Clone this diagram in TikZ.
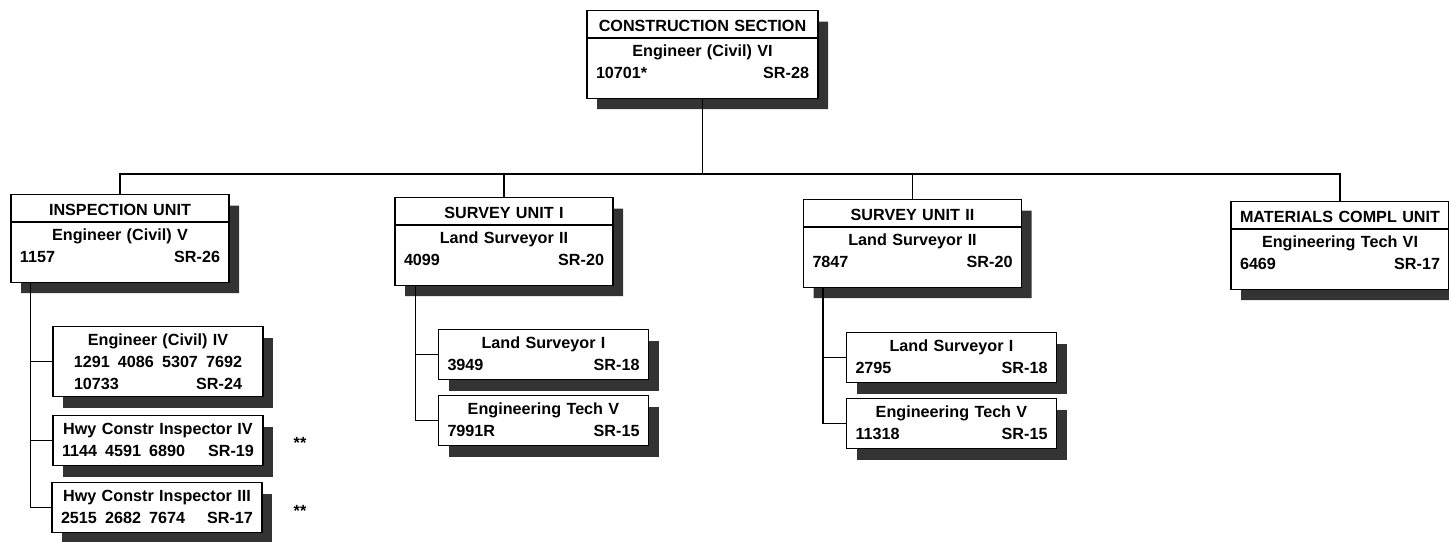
\documentclass[tikz,border=0pt]{standalone}
\usepackage{fontspec}
\setmainfont{Liberation Sans}
\usetikzlibrary{shapes.multipart,shadows}

\newlength\pxu
\setlength\pxu{0.03cm}
\newcommand{\orgfont}{\fontsize{13.8pt}{18.8pt}\selectfont\bfseries}
\newcommand{\headstrut}{\rule[-6\pxu]{0pt}{26\pxu}}
\newcommand{\bodytop}{\rule{0pt}{18\pxu}}
\newcommand{\bodyend}{\rule[-19\pxu]{0pt}{19\pxu}}
\newcommand{\subtop}{\rule{0pt}{19\pxu}}
\newcommand{\subend}{\rule[-9\pxu]{0pt}{9\pxu}}

\begin{document}
\begin{tikzpicture}[
  x=0.03cm,y=-0.03cm,
  unitbox/.style={rectangle split, rectangle split parts=2, draw=black, line width=1.1pt, fill=white, text width=200\pxu, inner xsep=9\pxu, inner ysep=0pt, align=center, font=\orgfont, anchor=north, drop shadow={shadow xshift=10\pxu, shadow yshift=-11\pxu, fill=black!80, opacity=1}},
  posbox/.style={rectangle, draw=black, line width=1.1pt, fill=white, text width=192\pxu, inner xsep=9\pxu, inner ysep=0pt, align=center, font=\orgfont, anchor=north, drop shadow={shadow xshift=10\pxu, shadow yshift=-11\pxu, fill=black!80, opacity=1}},
  link/.style={draw=black, line width=1.1pt},
  note/.style={font=\orgfont, anchor=base}
]
  \useasboundingbox (0,0) rectangle (1449,542);

  % section and units
  \node[unitbox, text width=213\pxu] (sect) at (702.5,10) {\headstrut CONSTRUCTION SECTION\nodepart{two}\bodytop Engineer (Civil) VI\\10701*\hfill SR-28\bodyend};
  \node[unitbox] (insp) at (120,194) {\headstrut INSPECTION UNIT\nodepart{two}\bodytop Engineer (Civil) V\\1157\hfill SR-26\bodyend};
  \node[unitbox] (surv1) at (504,197) {\headstrut SURVEY UNIT I\nodepart{two}\bodytop Land Surveyor II\\4099\hfill SR-20\bodyend};
  \node[unitbox] (surv2) at (912.5,199) {\headstrut SURVEY UNIT II\nodepart{two}\bodytop Land Surveyor II\\7847\hfill SR-20\bodyend};
  \node[unitbox] (mat) at (1340,201) {\headstrut MATERIALS COMPL UNIT\nodepart{two}\bodytop Engineering Tech VI\\6469\hfill SR-17\bodyend};

  \coordinate (bar) at (702.5,174);
  \draw[link] (sect.south) -- (bar);
  \draw[link] (insp.north) |- (bar) -| (mat.north);
  \draw[link] (surv1.north) -- (surv1.north |- bar);
  \draw[link] (surv2.north) -- (surv2.north |- bar);

  % inspection unit positions
  \node[posbox] (ce4) at (158,326) {\subtop Engineer (Civil) IV\\1291\enspace 4086\enspace 5307\enspace 7692\\\makebox[168\pxu]{10733\hfill SR-24}\rule[-7\pxu]{0pt}{7\pxu}};
  \node[posbox] (hwy4) at (158,415) {\subtop Hwy Constr Inspector IV\\1144\enspace 4591\enspace 6890\hfill SR-19\subend};
  \node[posbox] (hwy3) at (157,482) {\subtop Hwy Constr Inspector III\\2515\enspace 2682\enspace 7674\hfill SR-17\subend};
  \node[note] (star1) at (300,449) {**};
  \node[note] (star2) at (300,516) {**};

  \coordinate (ispine) at ([xshift=20\pxu]insp.south west);
  \draw[link] (ispine) |- (hwy3.west);
  \draw[link] (ce4.west) -- (ce4.west -| ispine);
  \draw[link] (hwy4.west) -- (hwy4.west -| ispine);

  % survey unit I positions
  \node[posbox] (ls1a) at (543.5,329) {\subtop Land Surveyor I\\3949\hfill SR-18\subend};
  \node[posbox] (et5a) at (543.5,395) {\subtop Engineering Tech V\\7991R\hfill SR-15\subend};

  \coordinate (sspine1) at ([xshift=21\pxu]surv1.south west);
  \draw[link] (sspine1) |- (et5a.west);
  \draw[link] (ls1a.west) -- (ls1a.west -| sspine1);

  % survey unit II positions
  \node[posbox] (ls1b) at (951.5,332) {\subtop Land Surveyor I\\2795\hfill SR-18\subend};
  \node[posbox] (et5b) at (951.5,398) {\subtop Engineering Tech V\\11318\hfill SR-15\subend};

  \coordinate (sspine2) at ([xshift=20\pxu]surv2.south west);
  \draw[link] (sspine2) |- (et5b.west);
  \draw[link] (ls1b.west) -- (ls1b.west -| sspine2);
\end{tikzpicture}
\end{document}
